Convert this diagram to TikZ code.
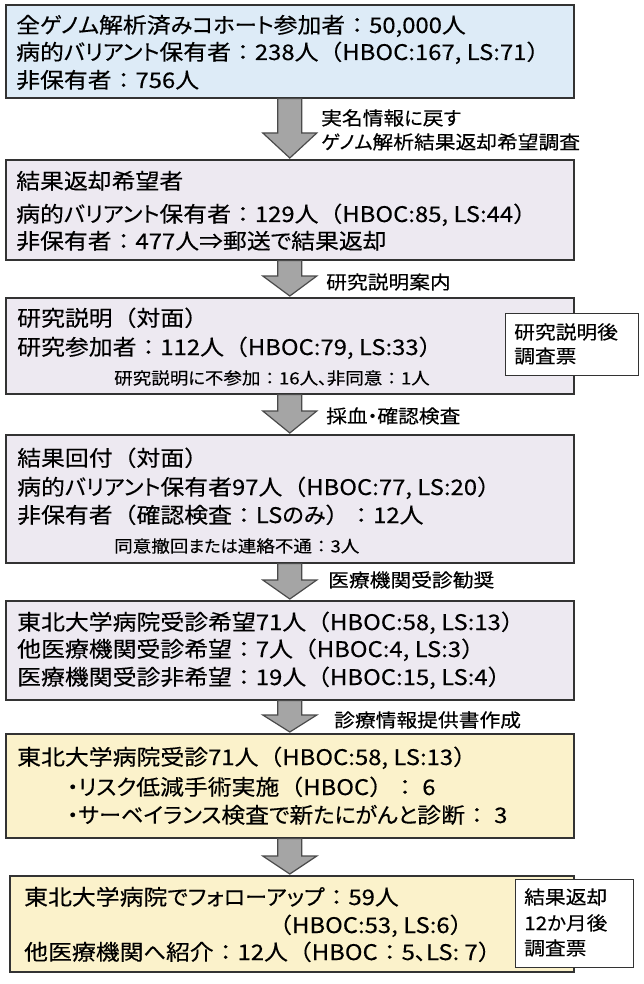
\documentclass[tikz,border=0pt]{standalone}
\usepackage{fontspec}
\usetikzlibrary{calc}
\setmainfont{Noto Sans CJK JP}[FakeStretch=1.11,FakeBold=0.3]
\newfontfamily\jpp{Noto Sans CJK JP}[FakeStretch=1.03,FakeBold=0.3,RawFeature=+palt]
\newfontfamily\jpf{Noto Sans CJK JP}[FakeStretch=1.11,FakeBold=0.3]
\newXeTeXintercharclass\kanaclass
\makeatletter
\count@="3000\relax
\loop\ifnum\count@<"3100\relax
  \XeTeXcharclass\count@=\kanaclass
  \advance\count@ by 1\relax
\repeat
\makeatother
\XeTeXinterchartoks 0 \kanaclass = {\jpp}
\XeTeXinterchartoks 4095 \kanaclass = {\jpp}
\XeTeXinterchartoks \kanaclass 0 = {\jpf}
\XeTeXinterchartoks \kanaclass 4095 = {\jpf}
\XeTeXinterchartokenstate=1
\definecolor{fillblue}{HTML}{DDEBF7}
\definecolor{fillpurple}{HTML}{EDE9F1}
\definecolor{fillyellow}{HTML}{FBF2CB}
\definecolor{boxline}{HTML}{333333}
\definecolor{arrfill}{HTML}{A5A5A5}
\definecolor{arrline}{HTML}{4A4A4A}
\tikzset{
  mainbox/.style={draw=boxline, line width=1.6pt, inner sep=0pt, anchor=north west},
  sidebox/.style={draw=boxline, fill=white, line width=1.1pt, inner sep=0pt, anchor=north west},
  bigtxt/.style={inner sep=0pt, anchor=base west, yshift=-8pt, font=\fontsize{21.5}{25}\selectfont},
  midtxt/.style={inner sep=0pt, anchor=base west, yshift=-7pt, font=\fontsize{18.7}{22}\selectfont},
  smalltxt/.style={inner sep=0pt, anchor=base west, yshift=-6.3pt, font=\fontsize{16.7}{20}\selectfont},
  blockarrow/.style={draw=arrline, fill=arrfill, line width=1.2pt, line join=miter},
}
\newcommand\blockarr[3]{%
  \draw[blockarrow] let \p1=(#1.south), \p2=(#2.north) in
    (\x1-12pt,\y1) -- (\x1+12pt,\y1) -- (\x1+12pt,\y2+#3pt+1pt) -- (\x1+27pt,\y2+#3pt+1pt)
    -- (\x1,\y2+1pt) -- (\x1-27pt,\y2+#3pt+1pt) -- (\x1-12pt,\y2+#3pt+1pt) -- cycle;}
\begin{document}
\begin{tikzpicture}[x=1pt,y=-1pt]
\useasboundingbox[fill=white] (0,0) rectangle (643,984);
% boxes
\node[mainbox, fill=fillblue, minimum width=568pt, minimum height=93pt] (b1) at (5,4) {};
\node[mainbox, fill=fillpurple, minimum width=568pt, minimum height=100pt] (b2) at (5,159) {};
\node[mainbox, fill=fillpurple, minimum width=568pt, minimum height=96pt] (b3) at (5,297) {};
\node[mainbox, fill=fillpurple, minimum width=568pt, minimum height=128pt] (b4) at (5,434) {};
\node[mainbox, fill=fillpurple, minimum width=568pt, minimum height=99pt] (b5) at (5,600) {};
\node[mainbox, fill=fillyellow, minimum width=568pt, minimum height=104pt] (b6) at (5,733) {};
\node[mainbox, fill=fillyellow, minimum width=564pt, minimum height=96pt] (b7) at (9,875) {};
% arrows
\blockarr{b1}{b2}{25}
\blockarr{b2}{b3}{20}
\blockarr{b3}{b4}{22}
\blockarr{b4}{b5}{19}
\blockarr{b5}{b6}{17}
\blockarr{b6}{b7}{18}
% side boxes
\node[sidebox, minimum width=133pt, minimum height=62pt] (s1) at (505,313) {};
\node[sidebox, minimum width=118pt, minimum height=88pt] (s2) at (515,879) {};
% box 1
\node[bigtxt] (t11) at (16,25) {全ゲノム解析済みコホート参加者：50,000人};
\node[bigtxt] (t12) at (16,52) {病的バリアント保有者：238人（HBOC:167, LS:71）};
\node[bigtxt] (t13) at (16,80) {非保有者：756人};
% box 2
\node[bigtxt] (t21) at (16,181) {結果返却希望者};
\node[bigtxt] (t22) at (16,214) {病的バリアント保有者：129人（HBOC:85, LS:44）};
\node[bigtxt] (t23) at (16,241) {非保有者：477人⇒郵送で結果返却};
% box 3
\node[bigtxt] (t31) at (17,318) {研究説明（対面）};
\node[bigtxt] (t32) at (17,347) {研究参加者：112人（HBOC:79, LS:33）};
\node[smalltxt] (t33) at (114,378) {研究説明に不参加：16人、非同意：1人};
% box 4
\node[bigtxt] (t41) at (17,458) {結果回付（対面）};
\node[bigtxt] (t42) at (17,487) {病的バリアント保有者97人（HBOC:77, LS:20）};
\node[bigtxt] (t43) at (17,515) {非保有者（確認検査：LSのみ）：12人};
\node[smalltxt] (t44) at (114,546) {同意撤回または連絡不通：3人};
% box 5
\node[bigtxt] (t51) at (17,622) {東北大学病院受診希望71人（HBOC:58, LS:13）};
\node[bigtxt] (t52) at (17,649) {他医療機関受診希望：7人（HBOC:4, LS:3）};
\node[bigtxt] (t53) at (17,677) {医療機関受診非希望：19人（HBOC:15, LS:4）};
% box 6
\node[bigtxt] (t61) at (17,757) {東北大学病院受診71人（HBOC:58, LS:13）};
\node[bigtxt] (t62) at (67,787) {・リスク低減手術実施（HBOC）： 6};
\node[bigtxt] (t63) at (67,815) {・サーベイランス検査で新たにがんと診断： 3};
% box 7
\node[bigtxt] (t71) at (24,897) {東北大学病院でフォローアップ：59人};
\node[bigtxt] (t72) at (268,925) {（HBOC:53, LS:6）};
\node[bigtxt] (t73) at (24,952) {他医療機関へ紹介：12人（HBOC：5、LS: 7）};
% side boxes text
\node[midtxt] (s1a) at (514,332) {研究説明後};
\node[midtxt] (s1b) at (514,356) {調査票};
\node[midtxt] (s2a) at (524,897) {結果返却};
\node[midtxt] (s2b) at (524,923) {12か月後};
\node[midtxt] (s2c) at (524,948) {調査票};
% arrow labels
\node[midtxt] (l1a) at (321,118) {実名情報に戻す};
\node[midtxt] (l1b) at (321,142) {ゲノム解析結果返却希望調査};
\node[midtxt] (l2) at (326,282) {研究説明案内};
\node[midtxt] (l3) at (326,416) {採血・確認検査};
\node[midtxt] (l4) at (328,580) {医療機関受診勧奨};
\node[midtxt] (l5) at (334,720) {診療情報提供書作成};
\end{tikzpicture}
\end{document}
